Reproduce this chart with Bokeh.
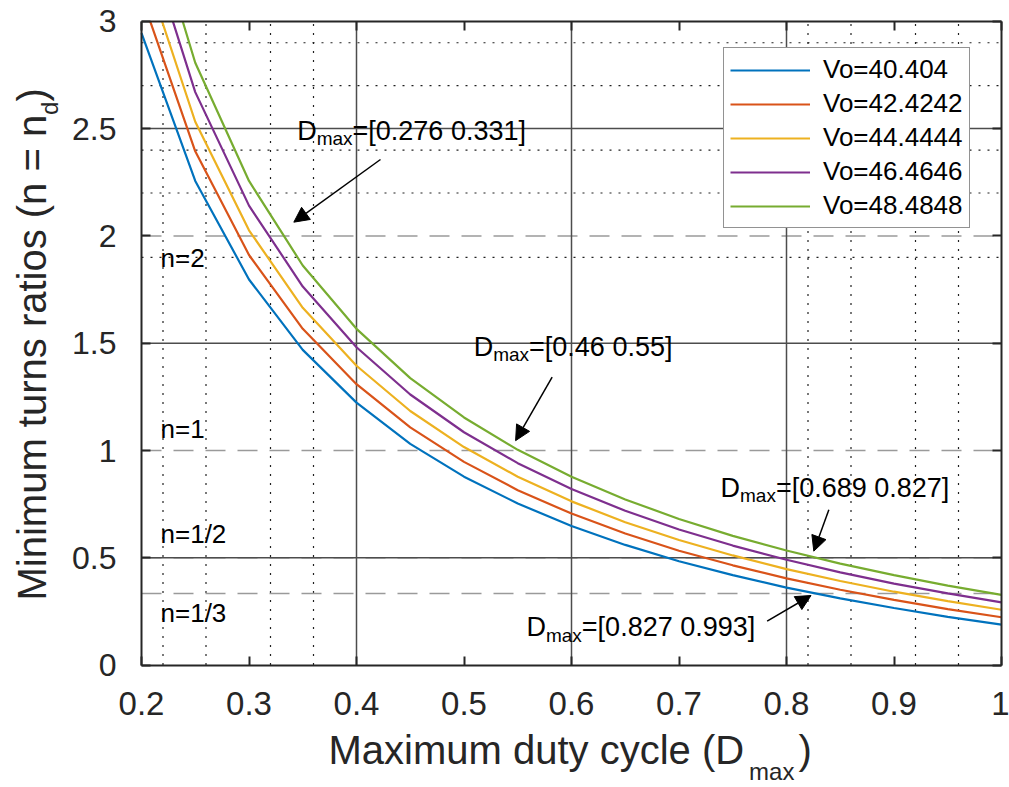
import math
from bokeh.plotting import figure
from bokeh.models import (Range1d, FixedTicker, LinearAxis, Label, Arrow, NormalHead,
                          CustomJSTickFormatter)
from bokeh.embed import file_html
from bokeh.resources import INLINE
from bokeh.core.properties import value

# ---------------- data ----------------
duty = [0.2, 0.25, 0.3, 0.35, 0.4, 0.45, 0.5, 0.55, 0.6, 0.65, 0.7, 0.75, 0.8, 0.85, 0.9, 0.95, 1.0]
vo_labels = ["Vo=40.404", "Vo=42.4242", "Vo=44.4444", "Vo=46.4646", "Vo=48.4848"]
n_vo1 = [2.945, 2.256, 1.797, 1.469, 1.223, 1.031, 0.878, 0.753, 0.648, 0.560, 0.484, 0.419, 0.361, 0.311, 0.266, 0.225, 0.189]
n_vo2 = [3.117, 2.394, 1.911, 1.567, 1.309, 1.108, 0.947, 0.815, 0.706, 0.613, 0.533, 0.465, 0.404, 0.351, 0.304, 0.261, 0.223]
n_vo3 = [3.290, 2.532, 2.026, 1.665, 1.395, 1.184, 1.016, 0.878, 0.763, 0.666, 0.583, 0.511, 0.447, 0.392, 0.342, 0.298, 0.258]
n_vo4 = [3.462, 2.670, 2.141, 1.764, 1.481, 1.261, 1.085, 0.941, 0.821, 0.719, 0.632, 0.557, 0.491, 0.432, 0.380, 0.334, 0.292]
n_vo5 = [3.634, 2.807, 2.256, 1.862, 1.567, 1.337, 1.154, 1.003, 0.878, 0.772, 0.681, 0.602, 0.534, 0.473, 0.419, 0.370, 0.327]
series = [n_vo1, n_vo2, n_vo3, n_vo4, n_vo5]
colors = ["#0072BD", "#D95319", "#EDB120", "#7E2F8E", "#77AC30"]

x_ticks = [0.2, 0.3, 0.4, 0.5, 0.6, 0.7, 0.8, 0.9, 1.0]
y_ticks = [0, 0.5, 1, 1.5, 2, 2.5, 3]
X_MIN, X_MAX, Y_MIN, Y_MAX = 0.2, 1.0, 0.0, 3.0

# reference turns-ratio levels
n_levels = [2, 1, 1 / 2, 1 / 3]
n_labels = ["n=2", "n=1", "n=1/2", "n=1/3"]
n_label_x = [0.2177, 0.2177, 0.2177, 0.2177]
n_label_y = [1.854, 1.056, 0.565, 0.200]

# grid positions seen in the figure
grid_x_solid = [0.4, 0.6, 0.8]
grid_x_dot = [0.22, 0.26, 0.32, 0.36, 0.82, 0.86, 0.92, 0.96]
grid_y_solid = [0.5, 1.5, 2.5]
grid_y_dot = [1.9, 2.2, 2.4, 2.7, 2.9]

# annotations: Dmax ranges
ann_text = ["=[0.276 0.331]", "=[0.46 0.55]", "=[0.689 0.827]", "=[0.827 0.993]"]
ann_x = [0.3448, 0.509, 0.7386, 0.5581]
ann_y = [2.444, 1.437, 0.781, 0.130]
arr_x0 = [0.4223, 0.582, 0.8394, 0.782]
arr_y0 = [2.356, 1.342, 0.7237, 0.2046]
arr_x1 = [0.3417, 0.548, 0.8254, 0.8228]
arr_y1 = [2.064, 1.046, 0.531, 0.3243]

FONT = "Liberation Sans"
AX = "#262626"
BASE = 0.36   # shift (in em) between the anchor and the drawn alphabetic baseline

# ---------------- layout: the frame fills the canvas, axes are placed inside ----------------
W, H = 1009, 787
PX_L, PX_R, PY_T, PY_B = 141.0, 1001.0, 20.8, 664.6    # plot box in pixels
kx = (X_MAX - X_MIN) / (PX_R - PX_L)
ky = (Y_MAX - Y_MIN) / (PY_B - PY_T)
xr = Range1d(X_MIN - PX_L * kx, X_MAX + (W - PX_R) * kx)
yr = Range1d(Y_MIN - (H - PY_B) * ky, Y_MAX + PY_T * ky)

p = figure(width=W, height=H, output_backend="svg", toolbar_location=None,
           x_range=xr, y_range=yr, x_axis_location=None, y_axis_location=None,
           min_border=0)
p.background_fill_color = "white"
p.border_fill_color = "white"
p.outline_line_color = None
for g in p.grid:
    g.visible = False

fmt = CustomJSTickFormatter(code="return String(Math.round(tick*10)/10);")
blank = CustomJSTickFormatter(code="return '';")


def make_axis(loc, ticks, bounds, formatter, size, standoff):
    return LinearAxis(fixed_location=loc, bounds=bounds, ticker=FixedTicker(ticks=ticks),
                      formatter=formatter, major_tick_in=9, major_tick_out=0,
                      minor_tick_line_color=None, axis_line_color=AX, axis_line_width=2,
                      major_tick_line_color=AX, major_tick_line_width=2,
                      major_label_text_font=FONT, major_label_text_font_size=size,
                      major_label_text_color=AX, major_label_standoff=standoff, level="overlay")


p.add_layout(make_axis(Y_MIN, x_ticks, (X_MIN, X_MAX), fmt, "33px", 27), "below")
p.add_layout(make_axis(X_MIN, y_ticks, (Y_MIN, Y_MAX), fmt, "32px", 25), "left")
p.add_layout(make_axis(Y_MAX, x_ticks, (X_MIN, X_MAX), blank, "10px", 0), "above")
p.add_layout(make_axis(X_MAX, y_ticks, (Y_MIN, Y_MAX), blank, "10px", 0), "right")

# grid lines
p.segment(x0=grid_x_dot, y0=[Y_MIN] * len(grid_x_dot), x1=grid_x_dot, y1=[Y_MAX] * len(grid_x_dot),
          line_color="#202020", line_width=1.2, line_dash="2 7", level="underlay")
p.segment(x0=[X_MIN] * len(grid_y_dot), y0=grid_y_dot, x1=[X_MAX] * len(grid_y_dot), y1=grid_y_dot,
          line_color="#202020", line_width=1.2, line_dash="2 7", level="underlay")
p.segment(x0=[X_MIN] * len(n_levels), y0=n_levels, x1=[X_MAX] * len(n_levels), y1=n_levels,
          line_color="#9a9a9a", line_width=1.5, line_dash="20 12", level="underlay")
p.segment(x0=grid_x_solid, y0=[Y_MIN] * len(grid_x_solid), x1=grid_x_solid, y1=[Y_MAX] * len(grid_x_solid),
          line_color="#4d4d4d", line_width=1.5, level="underlay")
p.segment(x0=[X_MIN] * len(grid_y_solid), y0=grid_y_solid, x1=[X_MAX] * len(grid_y_solid), y1=grid_y_solid,
          line_color="#4d4d4d", line_width=1.5, level="underlay")

# curves
for ys, c, lab in zip(series, colors, vo_labels):
    p.line(duty, ys, line_color=c, line_width=2.2, legend_label=lab)

# white mask (drawn last) hiding the parts of the curves that run above the top of the axes box
p.quad(left=[X_MIN - 0.009], right=[X_MAX + 0.007], bottom=[Y_MAX + 1.1 * ky], top=[yr.end + 1.0],
       fill_color="white", fill_alpha=1.0, line_color="white", line_width=2, level="overlay")

leg = p.legend[0]
leg.location = (723, H - 228)
leg.label_text_font = FONT
leg.label_text_font_size = "26px"
leg.label_text_color = "black"
leg.glyph_width = 80
leg.glyph_height = 30
leg.label_height = 30
leg.label_standoff = 13
leg.spacing = 3
leg.padding = 6
leg.margin = 0
leg.border_line_color = AX
leg.border_line_width = 1
leg.background_fill_color = "white"
leg.background_fill_alpha = 1

# n level labels
n_size = 26
p.text(x=n_label_x, y=[v + BASE * n_size * ky for v in n_label_y], text=n_labels, text_font=value(FONT),
       text_font_size=f"{n_size}px", text_baseline="alphabetic", text_align="left", text_color="black")

# annotations with subscripts
big, small = 27, 19
w_D = 0.722 * big
w_max = 1.889 * small
for t, xa, ya, x0, y0, x1, y1 in zip(ann_text, ann_x, ann_y, arr_x0, arr_y0, arr_x1, arr_y1):
    p.add_layout(Label(x=xa, y=ya, y_offset=BASE * big, text="D", text_font=FONT, text_font_size=f"{big}px",
                       text_baseline="alphabetic", text_color="black"))
    p.add_layout(Label(x=xa, y=ya, x_offset=w_D, y_offset=BASE * small - 5, text="max", text_font=FONT,
                       text_font_size=f"{small}px", text_baseline="alphabetic", text_color="black"))
    p.add_layout(Label(x=xa, y=ya, x_offset=w_D + w_max, y_offset=BASE * big, text=t, text_font=FONT,
                       text_font_size=f"{big}px", text_baseline="alphabetic", text_color="black"))
    p.add_layout(Arrow(x_start=x0, y_start=y0, x_end=x1, y_end=y1, line_color="black", line_width=1.5,
                       end=NormalHead(size=15, fill_color="black", line_color="black")))

# axis titles (with subscripts), screen units measured from the canvas bottom-left
lab_size, sub_size = 40, 24
xl_main = "Maximum duty cycle (D"
w_xl = 10.39 * lab_size
xl_x, xl_base, xl_sub = 328, 764, 780       # left edge, baselines (pixels from top)
p.add_layout(Label(x=xl_x, y=H - xl_base + BASE * lab_size, x_units="screen", y_units="screen",
                   text=xl_main, text_font=FONT, text_font_size=f"{lab_size}px",
                   text_baseline="alphabetic", text_color=AX))
p.add_layout(Label(x=xl_x + w_xl + 5, y=H - xl_sub + BASE * sub_size, x_units="screen", y_units="screen",
                   text="max", text_font=FONT, text_font_size=f"{sub_size}px",
                   text_baseline="alphabetic", text_color=AX))
p.add_layout(Label(x=xl_x + w_xl + 1.889 * sub_size + 9, y=H - xl_base + BASE * lab_size,
                   x_units="screen", y_units="screen", text=")", text_font=FONT,
                   text_font_size=f"{lab_size}px", text_baseline="alphabetic", text_color=AX))

yl_main = "Minimum turns ratios (n = n"
w_yl = 12.14 * lab_size
yl_base, yl_sub, yl_start = 46, 58, 600     # baselines (pixels from left), start (pixels from top)
yl_y = H - yl_start
p.add_layout(Label(x=yl_base - BASE * lab_size, y=yl_y, x_units="screen", y_units="screen", text=yl_main,
                   angle=math.pi / 2, text_font=FONT, text_font_size=f"{lab_size}px",
                   text_baseline="alphabetic", text_color=AX))
p.add_layout(Label(x=yl_sub - BASE * sub_size, y=yl_y + w_yl, x_units="screen", y_units="screen", text="d",
                   angle=math.pi / 2, text_font=FONT, text_font_size=f"{sub_size}px",
                   text_baseline="alphabetic", text_color=AX))
p.add_layout(Label(x=yl_base - BASE * lab_size, y=yl_y + w_yl + 0.556 * sub_size, x_units="screen",
                   y_units="screen", text=")", angle=math.pi / 2, text_font=FONT,
                   text_font_size=f"{lab_size}px", text_baseline="alphabetic", text_color=AX))

open("out.html", "w").write(file_html(p, INLINE))
